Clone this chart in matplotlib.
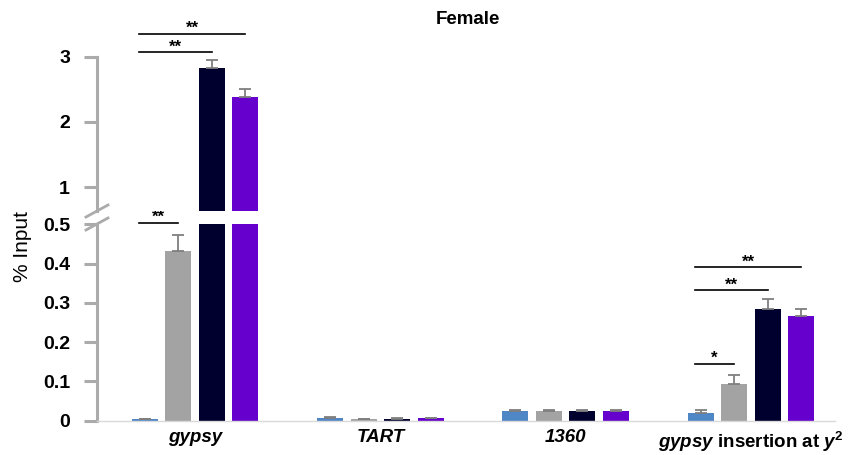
import matplotlib.pyplot as plt
from matplotlib.lines import Line2D
import numpy as np

plt.rcParams["font.family"] = ["Liberation Sans", "DejaVu Sans"]
plt.rcParams["mathtext.fontset"] = "custom"
plt.rcParams["mathtext.rm"] = "Liberation Sans:bold"
plt.rcParams["mathtext.bf"] = "Liberation Sans:bold"
plt.rcParams["mathtext.bfit"] = "Liberation Sans:bold:italic"

# data (% input)
categories = ["gypsy", "TART", "1360", "gypsy insertion at y2"]
tick_labels = ["gypsy", "TART", "1360",
               r"$\mathbfit{gypsy}$ insertion at $\mathbfit{y}^{\mathbf{2}}$"]
blue_vals = [0.004, 0.006, 0.025, 0.018]
blue_err = [0.001, 0.004, 0.001, 0.008]
gray_vals = [0.432, 0.004, 0.025, 0.093]
gray_err = [0.041, 0.001, 0.001, 0.023]
navy_vals = [2.82, 0.004, 0.025, 0.283]
navy_err = [0.13, 0.002, 0.001, 0.026]
purple_vals = [2.38, 0.006, 0.025, 0.267]
purple_err = [0.13, 0.001, 0.001, 0.018]

# significance brackets: (group, from bar, to bar, y, label)
sig_lower = [(0, 0, 1, 0.504, "**"), (3, 0, 1, 0.145, "*"),
             (3, 0, 2, 0.332, "**"), (3, 0, 3, 0.391, "**")]
sig_upper = [(0, 0, 2, 3.066, "**"), (0, 0, 3, 3.35, "**")]

series = [(blue_vals, blue_err, "#4f86c6"),
          (gray_vals, gray_err, "#a3a3a3"),
          (navy_vals, navy_err, "#00002e"),
          (purple_vals, purple_err, "#6600cc")]

SPINE = "#ababab"
x = np.arange(len(categories))
step = 0.181
width = 0.14

fig = plt.figure(figsize=(8.63, 4.55), dpi=100)
ax_lo = fig.add_axes([0.1124, 0.0758, 0.8552, 0.4312])
ax_hi = fig.add_axes([0.1124, 0.5363, 0.8552, 0.4110])


def bar_x(g, i):
    return x[g] + (i - 1.5) * step


for ax in (ax_lo, ax_hi):
    for i, (vals, err, col) in enumerate(series):
        pos = x + (i - 1.5) * step
        ax.bar(pos, vals, width=width, color=col, zorder=2)
        ax.errorbar(pos, vals, yerr=[np.zeros(len(vals)), err], fmt="none",
                    ecolor="#7f7f7f", elinewidth=1.3, capsize=4,
                    capthick=1.3, zorder=3)
    ax.set_xlim(-0.529, 3.454)
    for s in ("top", "right"):
        ax.spines[s].set_visible(False)
    ax.spines["left"].set_color(SPINE)
    ax.spines["left"].set_linewidth(2.2)
    ax.tick_params(axis="y", colors=SPINE, length=9.5, width=2.2, pad=10,
                   labelcolor="black", labelsize=14)
    for lab in ax.get_yticklabels():
        lab.set_fontweight("bold")

ax_lo.set_ylim(0, 0.5)
ax_lo.set_yticks([0, 0.1, 0.2, 0.3, 0.4, 0.5])
ax_lo.set_yticklabels(["0", "0.1", "0.2", "0.3", "0.4", "0.5"],
                      fontweight="bold")
ax_lo.spines["bottom"].set_color("#d9d9d9")
ax_lo.spines["bottom"].set_linewidth(1)
ax_lo.set_xticks(x)
ax_lo.set_xticklabels(tick_labels, fontsize=13.5, fontweight="bold")
for lab in ax_lo.get_xticklabels()[:3]:
    lab.set_fontstyle("italic")
ax_lo.tick_params(axis="x", length=0, pad=6)

ax_hi.set_ylim(0.637, 3.5)
ax_hi.set_yticks([1, 2, 3])
ax_hi.set_yticklabels(["1", "2", "3"], fontweight="bold")
ax_hi.spines["left"].set_bounds(0.637, 3)
ax_hi.spines["bottom"].set_visible(False)
ax_hi.set_xticks([])

for ax, sigs in ((ax_lo, sig_lower), (ax_hi, sig_upper)):
    for g, i, j, y, lab in sigs:
        x0 = bar_x(g, i) - 0.03
        x1 = bar_x(g, j)
        ax.plot([x0, x1], [y, y], color="black", lw=1.2, clip_on=False,
                zorder=4)
        ax.annotate(lab, ((x0 + x1) / 2, y), xytext=(0, 0.5),
                    textcoords="offset points", ha="center", va="baseline",
                    fontsize=12, fontweight="bold", annotation_clip=False)

# axis break marks
W, H = 863, 455
for cy in (211, 224):
    fig.add_artist(Line2D([86 / W, 108 / W],
                          [(H - cy - 6) / H, (H - cy + 6) / H],
                          color=SPINE, lw=2, transform=fig.transFigure))

fig.text(22 / W, (H - 247) / H, "% Input", rotation=90, ha="center",
         va="center", fontsize=15)
fig.text(468 / W, (H - 20) / H, "Female", ha="center", va="center",
         fontsize=13.5, fontweight="bold")

fig.savefig("out.png", dpi=100)
